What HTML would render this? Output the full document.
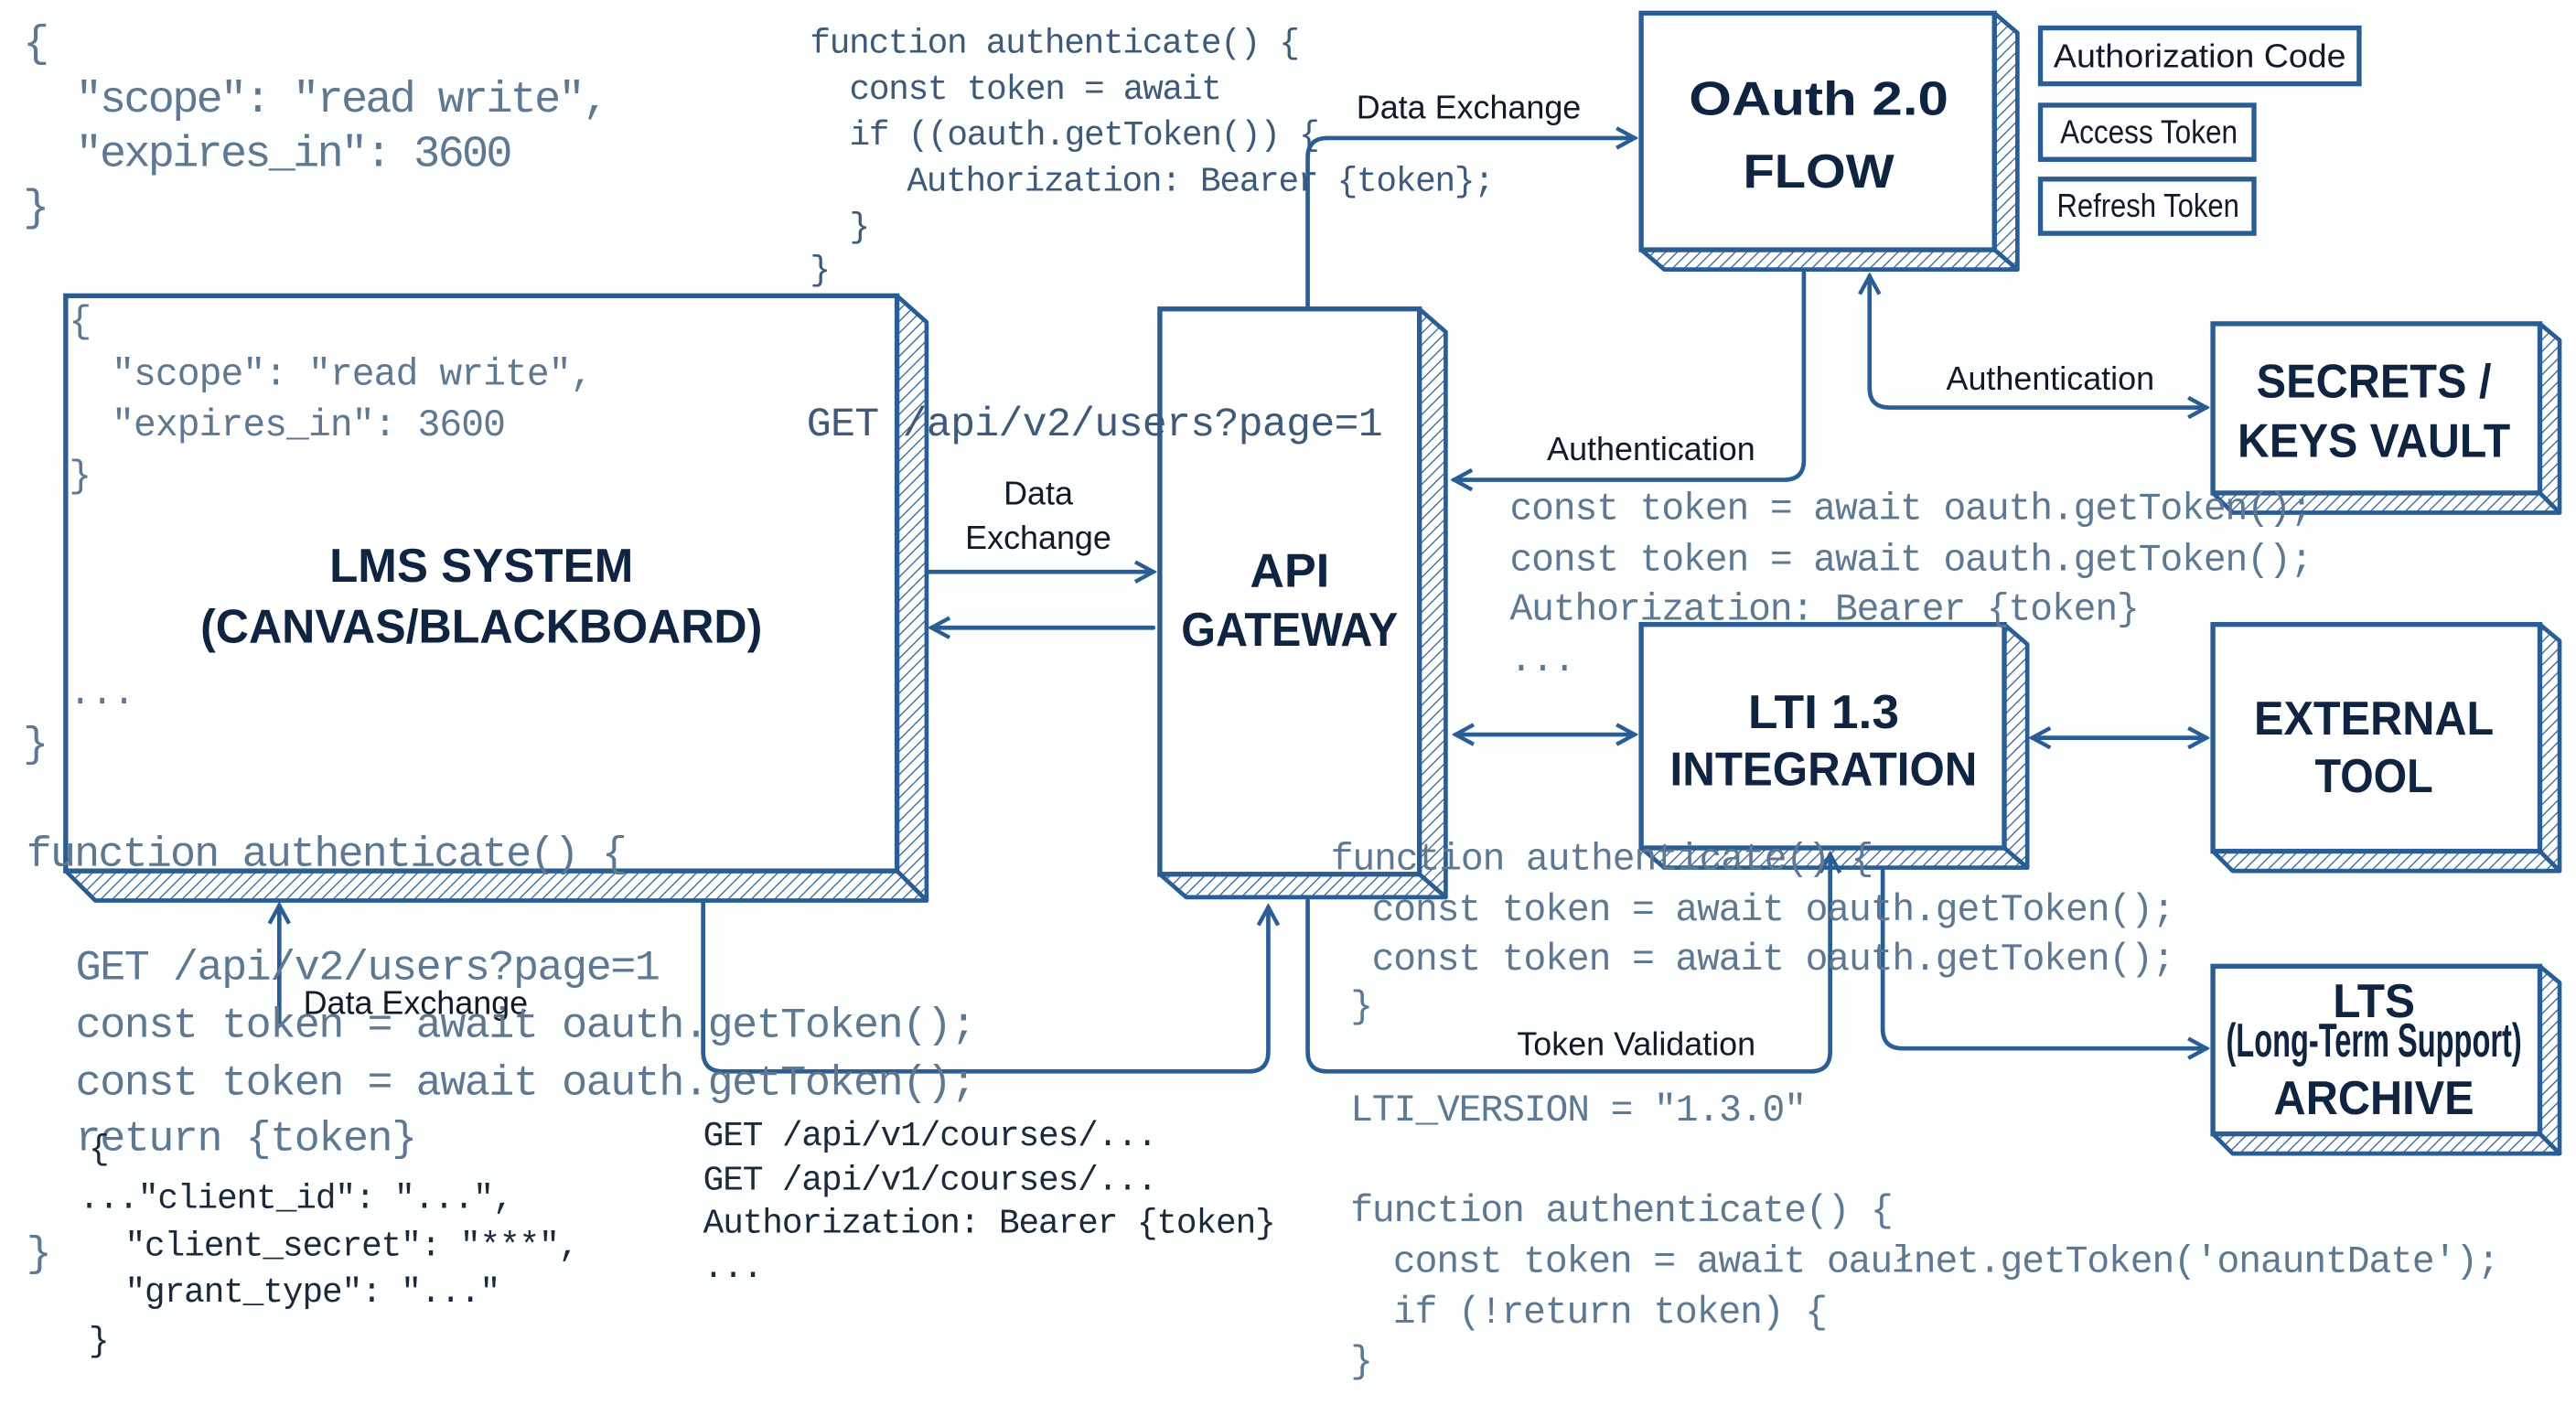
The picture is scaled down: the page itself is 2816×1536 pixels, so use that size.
<!DOCTYPE html>
<html><head><meta charset="utf-8"><style>
html,body{margin:0;padding:0;background:#fdfefe;}
svg{display:block}
.c{font-family:"Liberation Mono","DejaVu Sans Mono",monospace;fill:#5f7892;}
.l{font-family:"Liberation Sans",sans-serif;fill:#111a26;font-size:20px;}
.t{font-family:"Liberation Sans",sans-serif;font-weight:bold;fill:#0f2440;font-size:29px;text-anchor:middle;}
.s{fill:none;stroke:#2a5d93;stroke-width:2.6;stroke-linecap:round;stroke-linejoin:round}
.b{fill:#fff;stroke:#2a5d93;stroke-width:3}
.h{fill:url(#hatch);stroke:#2a5d93;stroke-width:2.6;stroke-linejoin:round}
</style></head><body>
<svg width="2816" height="1536" viewBox="0 0 1568 855" preserveAspectRatio="none" xmlns="http://www.w3.org/2000/svg">
<defs>
<pattern id="hatch" width="5" height="5" patternUnits="userSpaceOnUse" patternTransform="rotate(45)">
<rect width="5" height="5" fill="#fff"/><line x1="0" y1="0" x2="0" y2="5" stroke="#2a5d93" stroke-width="1.4"/></pattern>
<marker id="a" markerWidth="14" markerHeight="14" refX="12" refY="7" orient="auto-start-reverse" markerUnits="userSpaceOnUse">
<path d="M1,1 L12,7 L1,13" fill="none" stroke="#2a5d93" stroke-width="2.4"/></marker>
</defs>
<rect width="1568" height="855" fill="#fdfefe"/>

<!-- background code -->
<g class="c" font-size="27" letter-spacing="-1.5">
<text x="14" y="34">{</text>
<text x="46" y="68">"scope": "read write",</text>
<text x="46" y="101">"expires_in": 3600</text>
<text x="14" y="134">}</text>
</g>
<g class="c" font-size="21" letter-spacing="-0.7" style="fill:#3f5a78">
<text x="493" y="32">function authenticate() {</text>
<text x="517" y="60">const token = await</text>
<text x="517" y="88">if ((oauth.getToken()) {</text>
<text x="552" y="116">Authorization: Bearer {token};</text>
<text x="517" y="144">}</text>
<text x="493" y="170">}</text>
</g>

<!-- boxes -->
<g>
<polygon class="h" points="546,180 564,196 564,548 546,530"/>
<polygon class="h" points="40,530 546,530 564,548 58,548"/>
<rect class="b" x="40" y="180" width="506" height="350"/>

<polygon class="h" points="864,188 880,202 880,546 864,532"/>
<polygon class="h" points="706,532 864,532 880,546 722,546"/>
<rect class="b" x="706" y="188" width="158" height="344"/>

<polygon class="h" points="1214,8 1228,20 1228,164 1214,152"/>
<polygon class="h" points="999,152 1214,152 1228,164 1013,164"/>
<rect class="b" x="999" y="8" width="215" height="144"/>

<polygon class="h" points="1220,380 1234,392 1234,528 1220,516"/>
<polygon class="h" points="999,516 1220,516 1234,528 1013,528"/>
<rect class="b" x="999" y="380" width="221" height="136"/>

<polygon class="h" points="1546,197 1558,207 1558,312 1546,300"/>
<polygon class="h" points="1347,300 1546,300 1558,312 1359,312"/>
<rect class="b" x="1347" y="197" width="199" height="103"/>

<polygon class="h" points="1546,380 1558,390 1558,530 1546,518"/>
<polygon class="h" points="1347,518 1546,518 1558,530 1359,530"/>
<rect class="b" x="1347" y="380" width="199" height="138"/>

<polygon class="h" points="1546,588 1558,598 1558,702 1546,690"/>
<polygon class="h" points="1347,690 1546,690 1558,702 1359,702"/>
<rect class="b" x="1347" y="588" width="199" height="102"/>

<rect class="b" x="1242" y="17" width="194" height="34"/>
<rect class="b" x="1242" y="64" width="130" height="33"/>
<rect class="b" x="1242" y="109" width="130" height="33"/>
</g>

<!-- box titles -->
<text class="t" x="293" y="354" textLength="185" lengthAdjust="spacingAndGlyphs">LMS SYSTEM</text>
<text class="t" x="293" y="391" textLength="342" lengthAdjust="spacingAndGlyphs">(CANVAS/BLACKBOARD)</text>
<text class="t" x="785" y="357">API</text>
<text class="t" x="785" y="393" textLength="132" lengthAdjust="spacingAndGlyphs">GATEWAY</text>
<text class="t" x="1107" y="70" font-size="36" textLength="158" lengthAdjust="spacingAndGlyphs">OAuth 2.0</text>
<text class="t" x="1107" y="114" font-size="36" textLength="92" lengthAdjust="spacingAndGlyphs">FLOW</text>
<text class="t" x="1110" y="443" textLength="92" lengthAdjust="spacingAndGlyphs">LTI 1.3</text>
<text class="t" x="1110" y="478" textLength="187" lengthAdjust="spacingAndGlyphs">INTEGRATION</text>
<text class="t" x="1445" y="242" textLength="143" lengthAdjust="spacingAndGlyphs">SECRETS /</text>
<text class="t" x="1445" y="278" textLength="166" lengthAdjust="spacingAndGlyphs">KEYS VAULT</text>
<text class="t" x="1445" y="447" textLength="146" lengthAdjust="spacingAndGlyphs">EXTERNAL</text>
<text class="t" x="1445" y="482" textLength="72" lengthAdjust="spacingAndGlyphs">TOOL</text>
<text class="t" x="1445" y="619" textLength="50" lengthAdjust="spacingAndGlyphs">LTS</text>
<text class="t" x="1445" y="643" font-size="18" textLength="180" lengthAdjust="spacingAndGlyphs">(Long-Term Support)</text>
<text class="t" x="1445" y="678" textLength="122" lengthAdjust="spacingAndGlyphs">ARCHIVE</text>
<text class="l" x="1250" y="41" font-size="19" textLength="178" lengthAdjust="spacingAndGlyphs">Authorization Code</text>
<text class="l" x="1254" y="87" font-size="19" textLength="108" lengthAdjust="spacingAndGlyphs">Access Token</text>
<text class="l" x="1252" y="132" font-size="19" textLength="111" lengthAdjust="spacingAndGlyphs">Refresh Token</text>

<!-- connectors -->
<g class="s">
<line x1="564" y1="348" x2="702" y2="348" marker-end="url(#a)"/>
<line x1="702" y1="382" x2="567" y2="382" marker-end="url(#a)"/>
<path d="M796,186 L796,96 Q796,84 808,84 L995,84" marker-end="url(#a)"/>
<path d="M1098,166 L1098,280 Q1098,292 1086,292 L885,292" marker-end="url(#a)"/>
<path d="M1343,248 L1150,248 Q1138,248 1138,236 L1138,168" marker-start="url(#a)" marker-end="url(#a)"/>
<line x1="886" y1="447" x2="995" y2="447" marker-start="url(#a)" marker-end="url(#a)"/>
<line x1="1237" y1="449" x2="1343" y2="449" marker-start="url(#a)" marker-end="url(#a)"/>
<path d="M796,548 L796,640 Q796,652 808,652 L1102,652 Q1114,652 1114,640 L1114,520" marker-end="url(#a)"/>
<path d="M1146,530 L1146,626 Q1146,638 1158,638 L1343,638" marker-end="url(#a)"/>
<path d="M428,548 L428,640 Q428,652 440,652 L760,652 Q772,652 772,640 L772,552" marker-end="url(#a)"/>
<line x1="170" y1="622" x2="170" y2="551" marker-end="url(#a)"/>
</g>

<!-- connector labels -->
<text class="l" x="632" y="307" text-anchor="middle">Data</text>
<text class="l" x="632" y="334" text-anchor="middle">Exchange</text>
<text class="l" x="894" y="72" text-anchor="middle">Data Exchange</text>
<text class="l" x="1005" y="280" text-anchor="middle">Authentication</text>
<text class="l" x="1248" y="237" text-anchor="middle">Authentication</text>
<text class="l" x="996" y="642" text-anchor="middle">Token Validation</text>
<text class="l" x="253" y="617" text-anchor="middle">Data Exchange</text>

<!-- overlay code -->
<g class="c" font-size="23" letter-spacing="-0.5">
<text x="42" y="202">{</text>
<text x="68" y="234">"scope": "read write",</text>
<text x="68" y="265">"expires_in": 3600</text>
<text x="42" y="296">}</text>
<text x="42" y="428">...</text>
<text x="14" y="460" font-size="26">}</text>
<text x="16" y="527" font-size="26" letter-spacing="-1">function authenticate() {</text>
<text x="491" y="265" font-size="25" letter-spacing="-0.4" style="fill:#3f5a78">GET /api/v2/users?page=1</text>
</g>
<g class="c" font-size="23" letter-spacing="-0.6">
<text x="919" y="316">const token = await oauth.getToken();</text>
<text x="919" y="347">const token = await oauth.getToken();</text>
<text x="919" y="377">Authorization: Bearer {token}</text>
<text x="919" y="408">...</text>
<text x="810" y="529">function authenticate() {</text>
<text x="835" y="560">const token = await oauth.getToken();</text>
<text x="835" y="590">const token = await oauth.getToken();</text>
<text x="822" y="619">}</text>
<text x="822" y="682">LTI_VERSION = "1.3.0"</text>
<text x="822" y="743">function authenticate() {</text>
<text x="848" y="774">const token = await oaułnet.getToken('onauntDate');</text>
<text x="848" y="805">if (!return token) {</text>
<text x="822" y="835">}</text>
</g>
<g class="c" font-size="26" letter-spacing="-0.8">
<text x="46" y="596">GET /api/v2/users?page=1</text>
<text x="46" y="631">const token = await oauth.getToken();</text>
<text x="46" y="666">const token = await oauth.getToken();</text>
<text x="46" y="700">return {token}</text>
<text x="16" y="770">}</text>
</g>
<g class="c" font-size="21" letter-spacing="-0.6" style="fill:#1b2a3a">
<text x="54" y="705">{</text>
<text x="48" y="735">..."client_id": "...",</text>
<text x="76" y="764">"client_secret": "***",</text>
<text x="76" y="792">"grant_type": "..."</text>
<text x="54" y="822">}</text>
<text x="428" y="697">GET /api/v1/courses/...</text>
<text x="428" y="724">GET /api/v1/courses/...</text>
<text x="428" y="750">Authorization: Bearer {token}</text>
<text x="428" y="777">...</text>
</g>
</svg>
</body></html>
